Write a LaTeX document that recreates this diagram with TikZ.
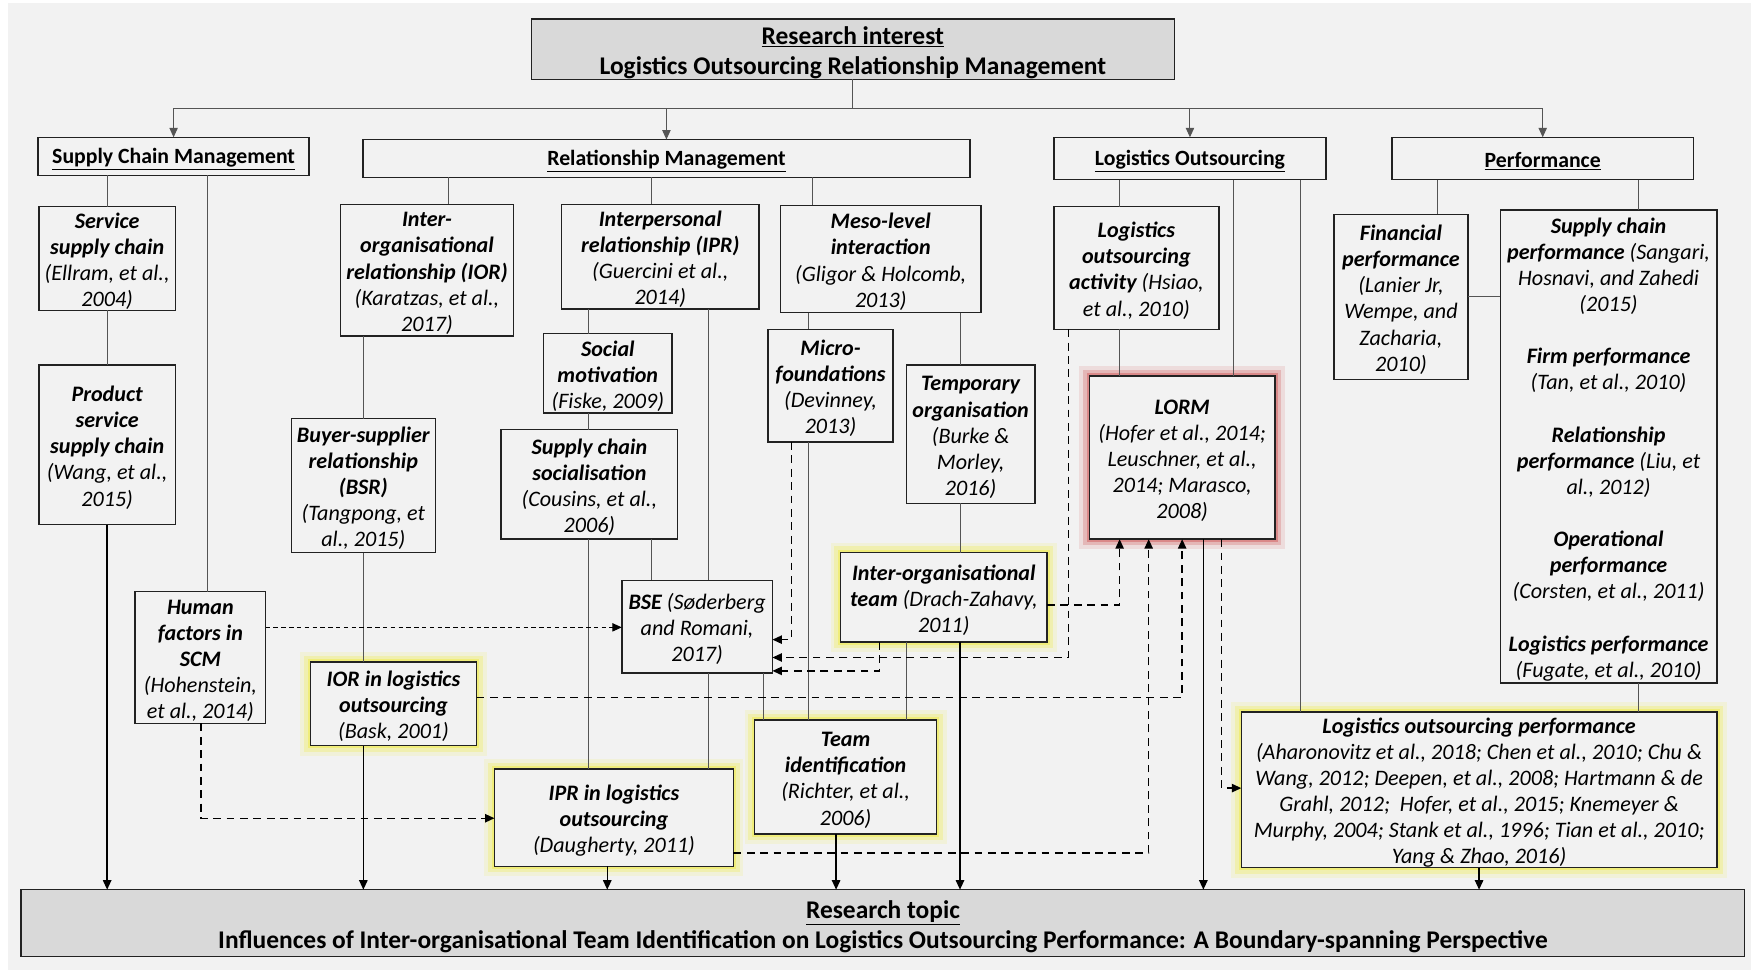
\documentclass[tikz,border=0pt]{standalone}
\usepackage{fontspec}
\setmainfont{Carlito}
\usetikzlibrary{arrows.meta}
\definecolor{bgc}{HTML}{F2F2F2}
\definecolor{hdr}{HTML}{D9D9D9}
\definecolor{edge}{HTML}{222222}
\definecolor{treec}{HTML}{555555}
\definecolor{glowy}{RGB}{240,236,80}
\definecolor{glowr}{RGB}{210,100,100}
% bold-italic key term
\newcommand\kw[1]{\textbf{#1}}
% box by its corners: name, x1, y1, x2, y2, style, text (first line gets a strut)
\newcommand\boxat[7]{\node[#6,anchor=north west,minimum width={#4-#2},minimum height={#5-#3}] (#1) at (#2,#3) {\rule{0pt}{18.8pt}#7};}
\tikzset{
  box/.style={draw=edge, line width=1.3pt, fill=bgc, inner sep=0pt, outer sep=0pt,
    align=center, font=\fontsize{19.8}{23.4}\selectfont\itshape},
  frame/.style={draw=edge, line width=1.3pt, fill=#1, inner sep=0pt, outer sep=0pt},
  htext/.style={inner sep=0pt, align=center, font=\fontsize{19.5}{23}\selectfont\bfseries, yshift=-2.5pt},
  ttext/.style={inner sep=0pt, align=center, font=\fontsize{22.8}{27}\selectfont\bfseries, yshift=-3pt},
  glowY/.style={preaction={draw=glowy, line width=18pt, opacity=0.15},
                preaction={draw=glowy, line width=11pt, opacity=0.3},
                preaction={draw=glowy, line width=5pt, opacity=0.55}},
  glowR/.style={preaction={draw=glowr, line width=18pt, opacity=0.15},
                preaction={draw=glowr, line width=11pt, opacity=0.3},
                preaction={draw=glowr, line width=5pt, opacity=0.55}},
  arrowend/.style={-{Triangle[length=8.5pt,width=7.5pt]}},
  tree/.style={draw=treec, line width=0.9pt},
  treearr/.style={tree, arrowend},
  arr/.style={draw=black, line width=1.3pt, arrowend},
  dsh/.style={draw=black, line width=1.3pt, dash pattern=on 7pt off 5pt, arrowend},
  dshfine/.style={draw=black, line width=0.9pt, dash pattern=on 4pt off 3pt, arrowend},
}
\begin{document}
\begin{tikzpicture}[x=1pt,y=-1pt]
\useasboundingbox (0,0) rectangle (1568.6,870);
\fill[white] (0,0) rectangle (1568.6,870);
\fill[bgc] (7,2.5) rectangle (1568.6,869);

% title and topic
\boxat{top}{476}{17}{1052}{71}{frame=hdr}{}
\node[ttext] (toptext) at (top.center) {\underline{Research interest}\\Logistics Outsourcing Relationship Management};
\boxat{rt}{19}{797}{1563}{857}{frame=hdr}{}
\node[ttext] (rttext) at (rt.center) {\underline{Research topic}\\Influences of Inter-organisational Team Identification on Logistics Outsourcing Performance: A Boundary-spanning Perspective};

% theme headers
\boxat{scm}{34}{123}{277}{157}{frame=bgc}{}
\node[htext] (scmtext) at (scm.center) {\underline{Supply Chain Management}};
\boxat{rm}{325}{125}{869}{159}{frame=bgc}{}
\node[htext] (rmtext) at (rm.center) {\underline{Relationship Management}};
\boxat{lo}{944}{123}{1188}{161}{frame=bgc}{}
\node[htext] (lotext) at (lo.center) {\underline{Logistics Outsourcing}};
\boxat{perf}{1247}{123}{1517}{161}{frame=bgc}{}
\node[htext] (perftext) at (perf.center) {\underline{Performance}};

% supply chain management
\boxat{ssc}{35}{185}{157}{278}{box}{\kw{Service}\\\kw{supply chain}\\(Ellram, et al.,\\2004)}
\boxat{pssc}{35}{327}{157}{470}{box}{\kw{Product}\\\kw{service}\\\kw{supply chain}\\(Wang, et al.,\\2015)}
\boxat{hf}{121}{530}{238}{648}{box}{\kw{Human}\\\kw{factors in}\\\kw{SCM}\\(Hohenstein,\\et al., 2014)}

% relationship management
\boxat{ior}{305}{183}{460}{301}{box}{\kw{Inter-}\\\kw{organisational}\\\kw{relationship (IOR)}\\(Karatzas, et al.,\\2017)}
\boxat{bsr}{261}{375}{390}{495}{box}{\kw{Buyer-supplier}\\\kw{relationship}\\\kw{(BSR)}\\(Tangpong, et\\al., 2015)}
\boxat{iorlo}{278}{593}{427}{668}{box,glowY}{\kw{IOR in logistics}\\\kw{outsourcing}\\(Bask, 2001)}
\boxat{ipr}{503}{183}{680}{277}{box}{\kw{Interpersonal}\\\kw{relationship (IPR)}\\(Guercini et al.,\\2014)}
\boxat{sm}{487}{299}{602}{370}{box}{\kw{Social}\\\kw{motivation}\\(Fiske, 2009)}
\boxat{scs}{449}{385}{607}{483}{box}{\kw{Supply chain}\\\kw{socialisation}\\(Cousins, et al.,\\2006)}
\boxat{bse}{557}{520}{692}{603}{box}{\kw{BSE} (Søderberg\\and Romani,\\2017)}
\boxat{iprlo}{443}{689}{657}{776}{box,glowY}{\kw{IPR in logistics}\\\kw{outsourcing}\\(Daugherty, 2011)}
\boxat{meso}{699}{184}{879}{280}{box}{\kw{Meso-level}\\\kw{interaction}\\(Gligor \& Holcomb,\\2013)}
\boxat{mf}{688}{295}{800}{396}{box}{\kw{Micro-}\\\kw{foundations}\\(Devinney,\\2013)}
\boxat{temp}{812}{327}{927}{451}{box}{\kw{Temporary}\\\kw{organisation}\\(Burke \&\\Morley,\\2016)}
\boxat{iot}{753}{495}{938}{575}{box,glowY}{\kw{Inter-organisational}\\\kw{team} (Drach-Zahavy,\\2011)}
\boxat{teamid}{676}{645}{839}{747}{box,glowY}{\kw{Team}\\\kw{identification}\\(Richter, et al.,\\2006)}

% logistics outsourcing
\boxat{loa}{944}{185}{1092}{295}{box}{\kw{Logistics}\\\kw{outsourcing}\\\kw{activity} (Hsiao,\\et al., 2010)}
\boxat{lorm}{976}{337}{1142}{483}{box,glowR}{\kw{LORM}\\(Hofer et al., 2014;\\Leuschner, et al.,\\2014; Marasco,\\2008)}
\boxat{lop}{1112}{638}{1538}{776}{box,glowY}{\kw{Logistics outsourcing performance}\\(Aharonovitz et al., 2018; Chen et al., 2010; Chu \&\\Wang, 2012; Deepen, et al., 2008; Hartmann \& de\\Grahl, 2012;\ \ Hofer, et al., 2015; Knemeyer \&\\Murphy, 2004; Stank et al., 1996; Tian et al., 2010;\\Yang \& Zhao, 2016)}

% performance
\boxat{fp}{1195}{192}{1315}{340}{box}{\kw{Financial}\\\kw{performance}\\(Lanier Jr,\\Wempe, and\\Zacharia,\\2010)}
\boxat{scp}{1344}{188}{1538}{612}{box}{\kw{Supply chain}\\\kw{performance} (Sangari,\\Hosnavi, and Zahedi\\(2015)\\[23.4pt]
  \kw{Firm performance}\\(Tan, et al., 2010)\\[23.4pt]
  \kw{Relationship}\\\kw{performance} (Liu, et\\al., 2012)\\[23.4pt]
  \kw{Operational}\\\kw{performance}\\(Corsten, et al., 2011)\\[23.4pt]
  \kw{Logistics performance}\\(Fugate, et al., 2010)}

% research interest branches into the four themes
\coordinate (hub) at (top.south |- 0,97);
\draw[tree] (top.south) -- (hub);
\draw[treearr] (hub) -| (scm.north);
\draw[treearr] (hub) -| (rm.north);
\draw[treearr] (hub) -| (lo.north);
\draw[treearr] (hub) -| (perf.north);

% supply chain management links
\draw[tree] (scm.south -| ssc.north) -- (ssc.north);
\draw[tree] (ssc.south) -- (pssc.north);
\draw[arr] (pssc.south) -- (pssc.south |- rt.north);
\draw[tree] (scm.south -| 186,0) -- (hf.north -| 186,0);

% relationship management links
\draw[tree] (rm.south -| 402,0) -- (ior.north -| 402,0);
\draw[tree] (ior.south -| bsr.north) -- (bsr.north);
\draw[tree] (bsr.south) -- (bsr.south |- iorlo.north);
\draw[arr] (bsr.south |- iorlo.south) -- (bsr.south |- rt.north);
\draw[tree] (rm.south -| 584,0) -- (ipr.north -| 584,0);
\draw[tree] (ipr.south -| 527,0) -- (sm.north -| 527,0);
\draw[tree] (sm.south -| 527,0) -- (scs.north -| 527,0);
\draw[tree] (scs.south -| 527,0) -- (iprlo.north -| 527,0);
\draw[tree] (scs.south -| 584,0) -- (bse.north -| 584,0);
\draw[tree] (ipr.south -| 635,0) -- (bse.north -| 635,0);
\draw[tree] (bse.south -| 635,0) -- (iprlo.north -| 635,0);
\draw[tree] (bse.south -| 684,0) -- (teamid.north -| 684,0);
\draw[arr] (iprlo.south -| 544,0) -- (rt.north -| 544,0);
\draw[tree] (rm.south -| 728,0) -- (meso.north -| 728,0);
\draw[tree] (meso.south -| 724,0) -- (mf.north -| 724,0);
\draw[tree] (mf.south -| 724,0) -- (teamid.north -| 724,0);
\draw[tree] (meso.south -| 860,0) -- (temp.north -| 860,0);
\draw[tree] (temp.south -| 860,0) -- (iot.north -| 860,0);
\draw[arr] (iot.south -| 860,0) -- (rt.north -| 860,0);
\draw[tree] (iot.south -| 812,0) -- (teamid.north -| 812,0);
\draw[arr] (teamid.south -| 749,0) -- (rt.north -| 749,0);

% logistics outsourcing links
\draw[tree] (lo.south -| 1003,0) -- (loa.north -| 1003,0);
\draw[tree] (loa.south -| 1003,0) -- (lorm.north -| 1003,0);
\draw[tree] (lo.south -| 1105,0) -- (lorm.north -| 1105,0);
\draw[tree] (lo.south -| 1165,0) -- (lop.north -| 1165,0);
\draw[arr] (lorm.south -| 1078,0) -- (rt.north -| 1078,0);
\draw[arr] (lop.south) -- (lop.south |- rt.north);

% performance links
\draw[tree] (perf.south -| 1288,0) -- (fp.north -| 1288,0);
\draw[tree] (perf.south -| 1468,0) -- (scp.north -| 1468,0);
\draw[tree] (fp.east |- 0,266) -- (scp.west |- 0,266);
\draw[tree] (scp.south -| 1468,0) -- (lop.north -| 1468,0);

% dashed influence paths
\draw[dshfine] (hf.east |- 0,562) -- (bse.west |- 0,562);
\draw[dsh] (hf.south -| 180,0) |- (iprlo.west |- 0,733);
\draw[dsh] (iorlo.east |- 0,625) -| (lorm.south -| 1059,0);
\draw[dsh] (iprlo.east |- 0,764) -| (lorm.south -| 1029,0);
\draw[dsh] (iot.east |- 0,542) -| (lorm.south -| 1003,0);
\draw[dsh] (mf.south -| 709,0) |- (bse.east |- 0,573);
\draw[dsh] (loa.south -| 957,0) |- (bse.east |- 0,589);
\draw[dsh] (iot.south -| 788,0) |- (bse.east |- 0,601);
\draw[dsh] (lorm.south -| 1094,0) |- (lop.west |- 0,706);
\end{tikzpicture}
\end{document}
